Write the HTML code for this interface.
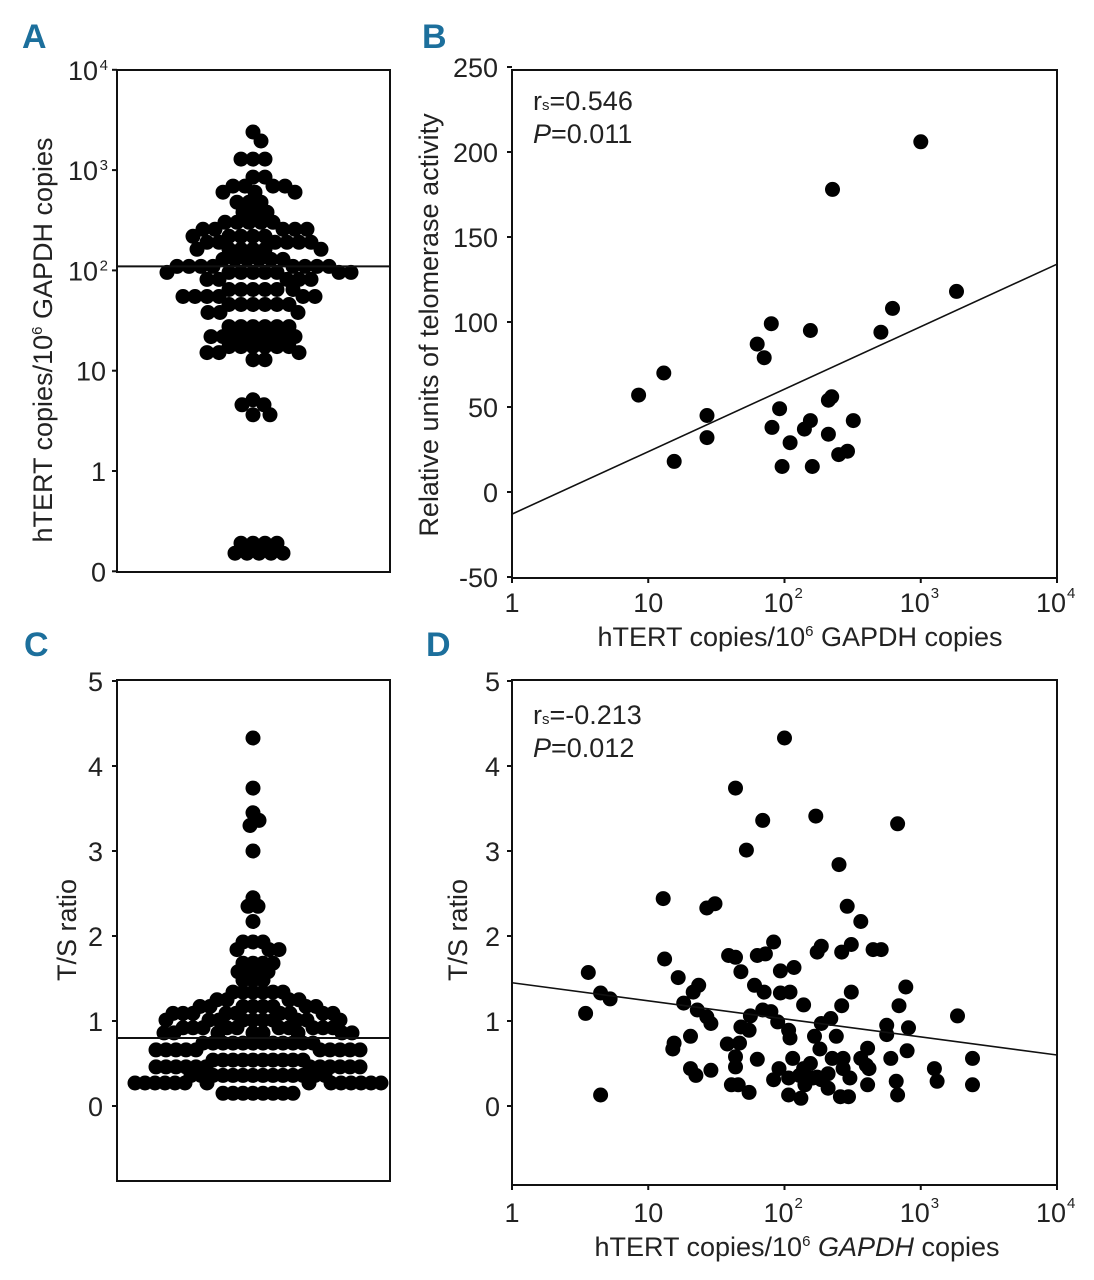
<!DOCTYPE html>
<html><head><meta charset="utf-8">
<style>
html,body{margin:0;padding:0;background:#fff;}
svg{display:block;font-family:"Liberation Sans Narrow","Liberation Sans",sans-serif;}
.t{font-size:27px;fill:#222;}
.lt{font-size:34px;font-weight:bold;fill:#1c6f9c;font-family:"Liberation Sans",sans-serif;}
</style></head>
<body>
<svg id="fig" width="1094" height="1280" viewBox="0 0 1094 1280" xmlns="http://www.w3.org/2000/svg">
<text class="lt" x="22" y="48">A</text>
<text class="lt" x="422" y="48">B</text>
<text class="lt" x="24" y="656">C</text>
<text class="lt" x="426" y="656">D</text>
<text class="t" transform="translate(52,340) rotate(-90)" text-anchor="middle">hTERT copies/10<tspan font-size="15" dy="-10">6</tspan><tspan dy="10"> GAPDH copies</tspan></text>
<text class="t" transform="translate(438,325) rotate(-90)" text-anchor="middle">Relative units of telomerase activity</text>
<text class="t" x="800" y="646" text-anchor="middle">hTERT copies/10<tspan font-size="15" dy="-10">6</tspan><tspan dy="10"> GAPDH copies</tspan></text>
<text class="t" transform="translate(76,930) rotate(-90)" text-anchor="middle">T/S ratio</text>
<text class="t" transform="translate(467,930) rotate(-90)" text-anchor="middle">T/S ratio</text>
<text class="t" x="797" y="1256" text-anchor="middle">hTERT copies/10<tspan font-size="15" dy="-10">6</tspan><tspan dy="10"> </tspan><tspan font-style="italic">GAPDH</tspan> copies</text>
<text class="t" x="533" y="110">r<tspan font-size="15">s</tspan>=0.546</text>
<text class="t" x="533" y="143"><tspan font-style="italic">P</tspan>=0.011</text>
<text class="t" x="533" y="724">r<tspan font-size="15">s</tspan>=-0.213</text>
<text class="t" x="533" y="757"><tspan font-style="italic">P</tspan>=0.012</text>
<g id="plots"></g>
</svg>
<script>
// Panel A: log10 hTERT copies per patient
const aLogValues = [3.38,3.29,3.11,3.11,3.11,2.93,2.93,2.84,2.84,2.84,2.84,2.78,2.78,2.78,2.68,2.68,2.68,2.58,2.58,2.58,
2.48,2.48,2.48,2.48,2.48,2.41,2.41,2.41,2.41,2.41,2.34,2.34,2.34,2.34,2.34,2.28,2.28,2.28,2.28,2.28,2.28,
2.21,2.21,2.21,2.21,2.21,2.21,2.11,2.11,2.11,2.11,2.11,2.11,2.04,2.04,2.04,2.04,2.04,2.04,2.04,2.04,
1.98,1.98,1.98,1.98,1.98,1.98,1.98,1.98,1.91,1.91,1.91,1.91,1.91,1.81,1.81,1.81,1.81,1.81,1.81,
1.74,1.74,1.74,1.74,1.74,1.74,1.66,1.66,1.66,1.66,1.66,1.66,1.58,1.58,1.58,1.44,1.44,1.44,1.44,1.44,1.44,
1.34,1.34,1.34,1.34,1.34,1.34,1.34,1.34,1.24,1.24,1.24,1.24,1.24,1.24,1.18,1.18,1.18,1.11,1.11,
0.71,0.66,0.66,0.56,0.56,-0.72,-0.72,-0.72,-0.72,-0.82,-0.82,-0.82,-0.82,-0.82];
const aMedianLog = 2.04;
const aTickLabels = ["0","1","10","10²","10³","10⁴"];
const aTickLogs = [-1,0,1,2,3,4];

// Panel B
const bHTERT = [8.5,13,15.5,27,27,63,71,80,81,92,96,110,155,140,155,160,210,222,210,225,250,290,320,510,620,1000,1830];
const bActivity = [57,70,18,45,32,87,79,99,38,49,15,29,95,37,42,15,54,56,34,178,22,24,42,94,108,206,118];
const bFitStart = -13, bFitEnd = 134;
const bYTicks = [-50,0,50,100,150,200,250];
const xTickLabels = ["1","10","10²","10³","10⁴"];
const xTickLogs = [0,1,2,3,4];

// Panel C: T/S ratio per patient
const cValues = [4.33,3.74,3.45,3.36,3.3,3.0,2.45,2.35,2.35,2.17,1.93,1.93,1.93,1.84,1.84,1.84,1.68,1.68,1.68,1.68,
1.58,1.58,1.58,1.58,1.48,1.48,1.48,1.34,1.34,1.34,1.34,1.34,1.34,1.25,1.25,1.25,1.25,
1.17,1.17,1.17,1.17,1.17,1.17,1.17,1.17,1.09,1.09,1.09,1.09,1.09,1.09,1.09,1.09,1.09,
1.01,1.01,1.01,1.01,1.01,1.01,1.01,1.01,1.01,1.01,0.92,0.92,0.92,0.92,0.92,0.92,0.92,0.92,0.92,0.92,
0.86,0.86,0.86,0.86,0.86,0.86,0.86,0.86,0.74,0.74,0.74,0.74,0.74,0.74,0.74,0.74,0.74,0.74,0.74,0.74,
0.66,0.66,0.66,0.66,0.66,0.66,0.66,0.66,0.66,0.66,0.54,0.54,0.54,0.54,0.54,0.54,0.54,0.54,0.54,0.54,
0.46,0.46,0.46,0.46,0.46,0.46,0.46,0.46,0.46,0.46,0.46,0.46,0.36,0.36,0.36,0.36,0.36,0.36,0.36,0.36,0.36,0.36,0.36,0.36,0.36,0.36,
0.27,0.27,0.27,0.27,0.27,0.27,0.27,0.27,0.27,0.27,0.27,0.27,0.27,0.27,0.15,0.15,0.15,0.15,0.15,0.15,0.15,0.15];
const cMedian = 0.8;
const tsTicks = [0,1,2,3,4,5];

// Panel D
const dLogHTERT = [2.00,1.64,1.84,2.23,2.83,1.72,2.40,1.11,1.43,1.49,2.46,2.56,1.92,2.27,2.24,2.49,2.42,2.65,2.71,1.59,1.64,1.80,1.86,1.12,1.68,1.97,2.07,0.56,1.22,1.37,1.33,1.78,1.85,1.97,2.04,2.89,2.49,0.65,0.72,1.26,2.14,2.42,2.84,0.54,1.36,1.43,1.46,1.84,1.90,1.75,1.95,3.27,2.34,2.27,1.68,1.74,2.75,2.91,2.03,2.04,2.22,2.38,2.75,1.31,1.19,1.18,1.58,1.67,2.26,2.61,2.90,3.38,1.64,1.80,2.06,2.35,2.43,2.56,2.78,2.60,2.62,1.64,2.19,2.14,1.96,2.43,1.31,1.35,1.46,3.10,3.12,3.38,1.92,2.03,2.21,2.27,2.48,2.61,2.82,2.83,1.61,1.66,1.74,2.03,2.12,2.15,2.32,2.41,2.47,0.65,2.11,2.24,2.32];
const dTS = [4.33,3.74,3.36,3.41,3.32,3.01,2.84,2.44,2.33,2.38,2.35,2.17,1.93,1.88,1.81,1.90,1.81,1.84,1.84,1.77,1.75,1.77,1.79,1.73,1.58,1.59,1.63,1.57,1.51,1.42,1.34,1.42,1.34,1.33,1.34,1.40,1.34,1.33,1.26,1.21,1.19,1.18,1.18,1.09,1.13,1.05,0.97,1.13,1.11,1.06,0.99,1.06,1.03,0.97,0.93,0.89,0.95,0.92,0.89,0.80,0.82,0.82,0.84,0.82,0.74,0.67,0.73,0.74,0.67,0.68,0.65,0.56,0.58,0.55,0.56,0.56,0.56,0.56,0.56,0.48,0.44,0.46,0.50,0.44,0.44,0.44,0.44,0.36,0.42,0.44,0.29,0.25,0.31,0.33,0.33,0.31,0.33,0.25,0.29,0.13,0.25,0.25,0.16,0.13,0.09,0.25,0.21,0.11,0.11,0.13,0.36,0.34,0.38];
const dFitStart = 1.45, dFitEnd = 0.6;

const NS="http://www.w3.org/2000/svg";
const G=document.getElementById('plots');
function mk(tag,attrs,parent){const e=document.createElementNS(NS,tag);for(const k in attrs)e.setAttribute(k,attrs[k]);(parent||G).appendChild(e);return e;}
function txt(s,x,y,anchor){const e=mk('text',{x:x,y:y,'text-anchor':anchor||'end','class':'t'});e.textContent=s;return e;}
const R=7.5;
function dot(x,y,name){const c=mk('circle',{cx:x.toFixed(1),cy:y.toFixed(1),r:R,fill:'#000'});


return c;}
function frame(x0,y0,x1,y1,name){const r=mk('rect',{x:x0,y:y0,width:x1-x0,height:y1-y0,fill:'none',stroke:'#111','stroke-width':2});

}
function beeswarm(ys,cx,minD){const placed=[];const out=[];
 const idx=ys.map((y,i)=>i).sort((a,b)=>ys[a]-ys[b]);
 idx.forEach(i=>{const y=ys[i];let best=null;
  for(let k=0;k<400;k++){const off=(k%2?1:-1)*Math.ceil(k/2);const x=cx+off;
   if(placed.every(p=>(p[0]-x)**2+(p[1]-y)**2>=minD*minD)){best=x;break;}}
  placed.push([best,y]);out[i]=best;});
 return out;}

// ---- Panel A
const aY=l=>471-(l)*100.3;
frame(117,70,390,572,'plot-frame-a');
aTickLogs.forEach((l,i)=>{const y=aY(l);mk('line',{x1:112,x2:117,y1:y,y2:y,stroke:'#111','stroke-width':2});
 const lab=aTickLabels[i];const t=txt(lab.replace(/[²³⁴]/,''),106-(lab.length>2?8:0),y+10);
 
 
 if(lab.length>2){const s=mk('text',{x:108,y:y,'text-anchor':'end','font-size':15,fill:'#222'});s.textContent=({'²':'2','³':'3','⁴':'4'})[lab[2]];}
});
const aYs=aLogValues.map(aY);const aXs=beeswarm(aYs,253,11.5);
aYs.forEach((y,i)=>dot(aXs[i],y,'dot-a'));
const am=mk('line',{x1:117,x2:390,y1:aY(aMedianLog),y2:aY(aMedianLog),stroke:'#111','stroke-width':2});



// ---- shared x axis for B and D
const lx=l=>512+l*136.25;
function xAxis(yb,labY,name){xTickLogs.forEach((l,i)=>{const x=lx(l);mk('line',{x1:x,x2:x,y1:yb,y2:yb+5,stroke:'#111','stroke-width':2});
 const lab=xTickLabels[i];const base=lab.replace(/[²³⁴]/,'');const t=txt(base,x-(lab.length>2?6:0),labY,'middle');
 
 
 if(lab.length>2){const s=mk('text',{x:x+10,y:labY-14,'font-size':15,fill:'#222'});s.textContent=({'²':'2','³':'3','⁴':'4'})[lab[2]];}
});}

// ---- Panel B
const bY=v=>492-v*1.7;
frame(512,70,1057,578,'plot-frame-b');
bYTicks.forEach(v=>{const y=bY(v);mk('line',{x1:507,x2:512,y1:y,y2:y,stroke:'#111','stroke-width':2});
 const t=txt(String(v),498,y+10);
 
 });
xAxis(578,612,'x-tick-label-b');
bHTERT.forEach((h,i)=>dot(lx(Math.log10(h)),bY(bActivity[i]),'dot-b'));
const bl=mk('line',{x1:lx(0),x2:lx(4),y1:bY(bFitStart),y2:bY(bFitEnd),stroke:'#111','stroke-width':1.6});



// ---- Panel C
const tsY=v=>1106-v*85;
frame(117,680,390,1181,'plot-frame-c');
tsTicks.forEach(v=>{const y=tsY(v);mk('line',{x1:112,x2:117,y1:y,y2:y,stroke:'#111','stroke-width':2});
 const t=txt(String(v),103,y+10);
 
 });
const cYs=cValues.map(tsY);const cXs=beeswarm(cYs,253,9.5);
cYs.forEach((y,i)=>dot(cXs[i],y,'dot-c'));
const cm=mk('line',{x1:117,x2:390,y1:tsY(cMedian),y2:tsY(cMedian),stroke:'#111','stroke-width':2});



// ---- Panel D
frame(512,680,1057,1185,'plot-frame-d');
tsTicks.forEach(v=>{const y=tsY(v);mk('line',{x1:507,x2:512,y1:y,y2:y,stroke:'#111','stroke-width':2});
 const t=txt(String(v),500,y+10);
 
 });
xAxis(1185,1222,'x-tick-label-d');
dLogHTERT.forEach((l,i)=>dot(lx(l),tsY(dTS[i]),'dot-d'));
const dl=mk('line',{x1:lx(0),x2:lx(4),y1:tsY(dFitStart),y2:tsY(dFitEnd),stroke:'#111','stroke-width':1.6});


</script>
</body></html>
